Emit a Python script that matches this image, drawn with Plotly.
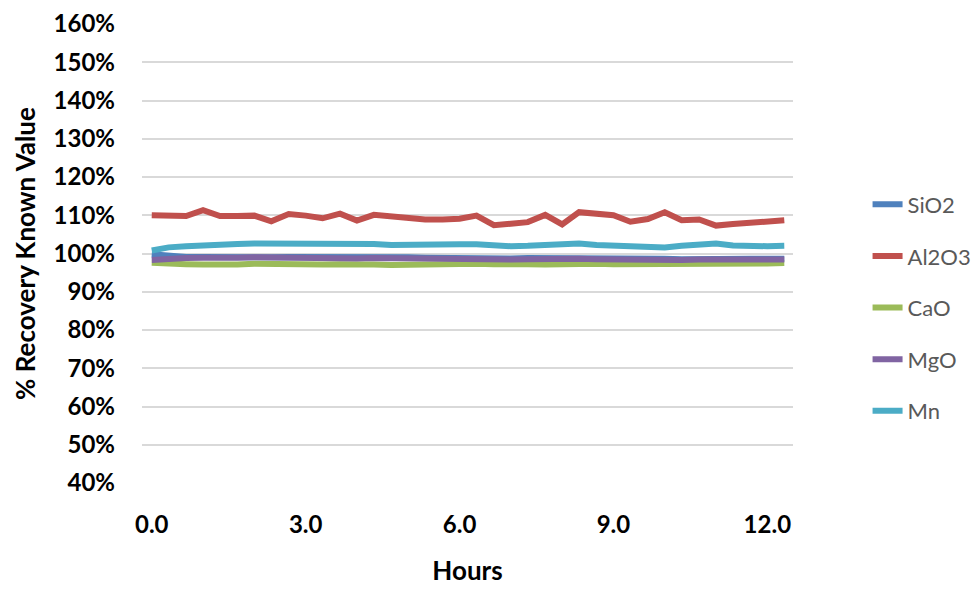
import plotly.graph_objects as go

hours = [0.0, 0.33, 0.67, 1.0, 1.33, 1.67, 2.0, 2.33, 2.67, 3.0, 3.33, 3.67, 4.0,
         4.33, 4.67, 5.0, 5.33, 5.67, 6.0, 6.33, 6.67, 7.0, 7.33, 7.67, 8.0, 8.33,
         8.67, 9.0, 9.33, 9.67, 10.0, 10.33, 10.67, 11.0, 11.33, 11.67, 12.0, 12.33]

sio2 = [99.8, 99.3, 99.1, 99.1, 99.0, 99.1, 99.1, 99.0, 99.1, 99.1, 99.0, 99.1, 99.3,
        99.3, 99.2, 99.0, 98.9, 98.8, 98.8, 98.8, 98.7, 98.7, 98.8, 98.8, 98.9, 98.8,
        98.7, 98.6, 98.6, 98.7, 98.6, 98.5, 98.6, 98.6, 98.5, 98.6, 98.6, 98.6]
al2o3 = [110.0, 109.8, 109.8, 111.3, 109.8, 109.8, 109.9, 108.4, 110.3, 109.9, 109.2, 110.4, 108.6,
         110.1, 109.7, 109.5, 108.9, 108.9, 109.1, 109.9, 107.4, 107.8, 108.2, 110.1, 107.6, 110.8,
         110.4, 110.0, 108.3, 109.0, 110.8, 108.7, 108.9, 107.3, 107.7, 108.1, 108.7, 108.7]
cao = [97.6, 97.3, 97.2, 97.1, 97.0, 97.1, 97.3, 97.2, 97.3, 97.0, 97.1, 97.2, 97.3,
       97.1, 97.0, 97.1, 97.2, 97.2, 97.2, 97.3, 97.2, 97.3, 97.2, 97.1, 97.2, 97.4,
       97.3, 97.2, 97.2, 97.4, 97.2, 97.1, 97.2, 97.3, 97.3, 97.4, 97.4, 97.5]
mgo = [98.3, 98.7, 98.8, 98.9, 98.8, 98.9, 99.0, 98.9, 99.0, 98.9, 98.8, 98.8, 98.7,
       98.8, 98.7, 98.6, 98.6, 98.5, 98.5, 98.5, 98.4, 98.4, 98.5, 98.6, 98.7, 98.6,
       98.5, 98.4, 98.4, 98.5, 98.4, 98.3, 98.4, 98.4, 98.3, 98.4, 98.4, 98.4]
mn = [100.8, 101.6, 101.9, 102.2, 102.4, 102.5, 102.6, 102.6, 102.5, 102.7, 102.5, 102.6, 102.8,
      102.5, 102.2, 102.3, 102.5, 102.6, 102.4, 102.4, 102.0, 101.9, 102.0, 102.1, 102.5, 102.6,
      102.2, 102.0, 101.9, 101.7, 101.6, 102.0, 102.5, 102.6, 102.1, 101.8, 101.9, 102.0]

series_names = ["SiO2", "Al2O3", "CaO", "MgO", "Mn"]
series_values = [sio2, al2o3, cao, mgo, mn]
colors = ["#4F81BD", "#C0504D", "#9BBB59", "#8064A2", "#4BACC6"]

y_ticks = [0.4, 0.5, 0.6, 0.7, 0.8, 0.9, 1.0, 1.1, 1.2, 1.3, 1.4, 1.5, 1.6]
x_ticks = [0, 3, 6, 9, 12]

fig = go.Figure()
for name, vals, col in zip(series_names, series_values, colors):
    fig.add_trace(go.Scatter(
        x=hours, y=[v / 100 for v in vals], name=name, mode="lines",
        legendgroup=name,
        line=dict(color=col, width=6),
    ))

fig.update_layout(
    width=979, height=592,
    margin=dict(l=134, r=194, t=16, b=117, autoexpand=False),
    paper_bgcolor="white", plot_bgcolor="white",
    font=dict(family="Lato, Carlito, sans-serif", color="black"),
    legend=dict(
        xref="container", yref="container",
        x=0.878, y=0.494, xanchor="left", yanchor="middle",
        font=dict(size=22, color="#595959", family="Lato, sans-serif"),
        tracegroupgap=20, itemwidth=30,
        bgcolor="rgba(0,0,0,0)",
    ),
    showlegend=True,
)
fig.update_xaxes(
    range=[-0.19, 12.5], tickvals=x_ticks, tickformat=".1f",
    showgrid=False, zeroline=False, showline=False, automargin=False,
    tickfont=dict(size=24, family="Lato, sans-serif", color="black", weight="bold"),
    ticklabelstandoff=25,
    title=dict(text="<b>Hours</b>", font=dict(size=26, color="black"), standoff=24),
)
fig.update_yaxes(
    range=[0.4, 1.6], tickvals=y_ticks, tickformat=".0%",
    showgrid=True, gridcolor="#D9D9D9", gridwidth=1.5, zeroline=False, showline=False,
    automargin=False,
    tickfont=dict(size=24, family="Lato, sans-serif", color="black", weight="bold"),
    ticklabelstandoff=26,
    title=dict(text="<b>% Recovery Known Value</b>", font=dict(size=26, color="black"), standoff=10),
)

fig.write_html("out.html")
